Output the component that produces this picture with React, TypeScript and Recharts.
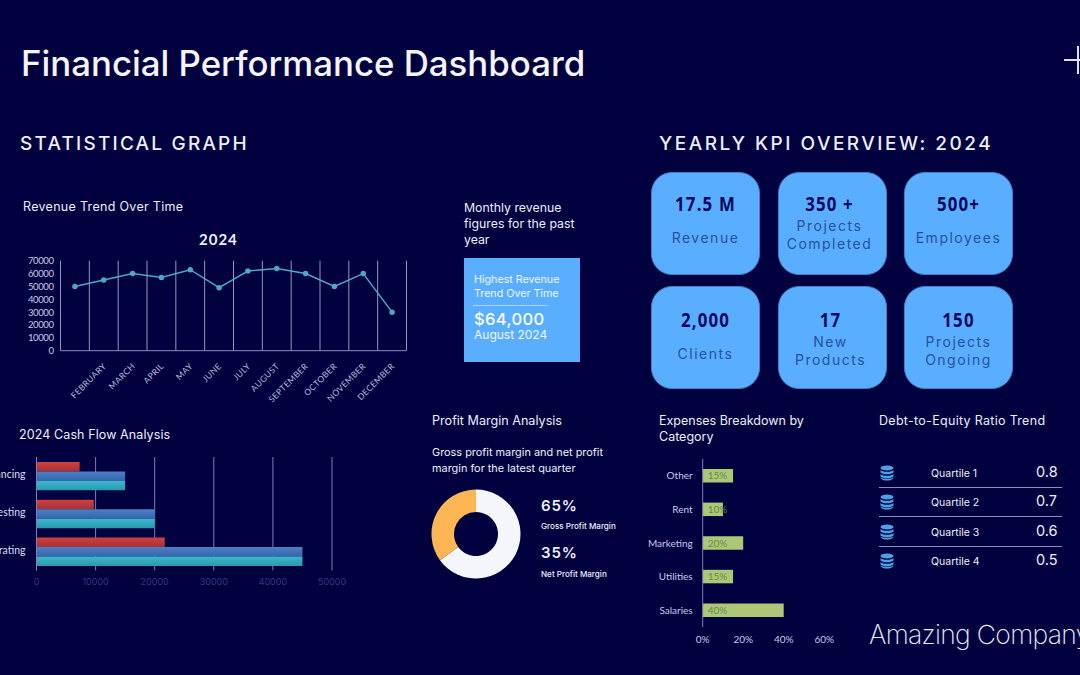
import { CSSProperties } from 'react';
import {
  Bar,
  BarChart,
  CartesianGrid,
  Cell,
  ComposedChart,
  LabelList,
  Line,
  Pie,
  PieChart,
  XAxis,
  YAxis,
} from 'recharts';

const months = ['', 'FEBRUARY', 'MARCH', 'APRIL', 'MAY', 'JUNE', 'JULY', 'AUGUST', 'SEPTEMBER', 'OCTOBER', 'NOVEMBER', 'DECEMBER'];
const revenue = [50000, 55000, 60000, 57000, 63000, 49000, 62000, 64000, 60000, 50000, 60000, 30000];
const revenueTicks = [0, 10000, 20000, 30000, 40000, 50000, 60000, 70000];

const flowCategories = ['Financing', 'Investing', 'Operating'];
const flowRed = [7300, 9700, 21700];
const flowBlue = [15000, 20000, 45000];
const flowTeal = [15000, 20000, 45000];
const flowTicks = [0, 10000, 20000, 30000, 40000, 50000];

const marginNames = ['Gross Profit Margin', 'Net Profit Margin'];
const marginValues = [65, 35];
const marginColors = ['#f5f6fc', '#fdb653'];

const expenseCategories = ['Other', 'Rent', 'Marketing', 'Utilities', 'Salaries'];
const expenseValues = [15, 10, 20, 15, 40];
const expenseTicks = [0, 20, 40, 60];

const quartiles = ['Quartile 1', 'Quartile 2', 'Quartile 3', 'Quartile 4'];
const ratios = ['0.8', '0.7', '0.6', '0.5'];

const kpiNumbers = ['17.5 M', '350 +', '500+', '2,000', '17', '150'];
const kpiLabels = [['Revenue'], ['Projects', 'Completed'], ['Employees'], ['Clients'], ['New', 'Products'], ['Projects', 'Ongoing']];

const BG = '#01013f';
const HEAD = '"Inter", sans-serif';
const BODY = '"Lato", sans-serif';

const revenueData = months.map((m, i) => ({ month: m, revenue: revenue[i] }));
const flowData = flowCategories.map((c, i) => ({ name: c, red: flowRed[i], blue: flowBlue[i], teal: flowTeal[i] }));
const marginData = marginNames.map((n, i) => ({ name: n, value: marginValues[i] }));
const expenseData = expenseCategories.map((c, i) => ({ name: c, value: expenseValues[i] }));

const at = (left: number, top: number, extra: CSSProperties = {}): CSSProperties => ({
  position: 'absolute',
  left,
  top,
  whiteSpace: 'nowrap',
  fontFamily: HEAD,
  color: '#eceefa',
  ...extra,
});

// month labels sit at 45 degrees, ending under the middle of each band
const MonthTick = (props: any) => {
  const { x, y, payload } = props;
  return (
    <g transform={`translate(${x + 3},${y + 8})`}>
      <text textAnchor="end" transform="rotate(-45)" fontSize={8.5} letterSpacing={0.35} fontFamily={BODY} fill="#b9b9dc">
        {payload.value}
      </text>
    </g>
  );
};

// grid lines run between the months, not through the points
const monthEdges = ({ offset }: any) =>
  [...months.map((_, i) => i), months.length].map((e) => offset.left + (e * offset.width) / months.length);

const DbIcon = () => (
  <svg width="14" height="16" viewBox="0 0 14 16" style={{ display: 'block' }}>
    <ellipse cx="7" cy="3" rx="6.5" ry="2.6" fill="#4f9fe6" />
    <path d="M0.5 5 C2 7.4 12 7.4 13.5 5 V7.4 C12 9.8 2 9.8 0.5 7.4 Z" fill="#4f9fe6" />
    <path d="M0.5 9 C2 11.4 12 11.4 13.5 9 V11.4 C12 13.8 2 13.8 0.5 11.4 Z" fill="#4f9fe6" />
    <path d="M0.5 12.4 C2 14.2 12 14.2 13.5 12.4 V13 C12 16.4 2 16.4 0.5 13 Z" fill="#4f9fe6" />
  </svg>
);

const cardLeft = [651, 778, 904];
const cardTop = [172, 286];
// the text in the middle column is not quite centred in its card
const cardShift = [0, -3, 0, 0, -2, 0];

export default function App() {
  return (
    <div style={{ position: 'fixed', left: 0, top: 0, width: 1080, height: 675, overflow: 'hidden', background: BG }}>
      <div style={at(21, 42, { fontSize: 34.8, fontWeight: 500, lineHeight: '42px', color: '#f3f4fd' })}>Financial Performance Dashboard</div>
      <div style={at(20, 131, { fontSize: 19, fontWeight: 500, letterSpacing: 2.2, lineHeight: '25px' })}>STATISTICAL GRAPH</div>
      <div style={at(659, 131, { fontSize: 19, fontWeight: 500, letterSpacing: 2.5, lineHeight: '25px' })}>YEARLY KPI OVERVIEW: 2024</div>

      <div style={{ position: 'absolute', left: 1064, top: 59, width: 16, height: 2, background: '#dfe0f5' }} />
      <div style={{ position: 'absolute', left: 1077, top: 46, width: 2, height: 28, background: '#dfe0f5' }} />

      <div style={at(23, 199, { fontSize: 12.5, lineHeight: '16px', letterSpacing: 0.3 })}>Revenue Trend Over Time</div>
      <div style={at(199, 230, { fontSize: 15, fontWeight: 700, lineHeight: '19px', fontFamily: BODY, letterSpacing: 1 })}>2024</div>

      <div style={{ position: 'absolute', left: 0, top: 250 }}>
        <ComposedChart width={430} height={170} data={revenueData} margin={{ top: 10.7, right: 23.5, bottom: 0, left: 0 }}>
          <CartesianGrid horizontal={false} stroke="#9795c4" verticalCoordinatesGenerator={monthEdges} />
          <XAxis
            dataKey="month"
            scale="band"
            interval={0}
            height={69.3}
            tick={<MonthTick />}
            tickLine={false}
            axisLine={{ stroke: '#8d8bbc' }}
          />
          <YAxis
            width={60.5}
            domain={[0, 70000]}
            ticks={revenueTicks}
            interval={0}
            tickLine={false}
            axisLine={false}
            tickMargin={1}
            tick={{ fill: '#c9c9e6', fontSize: 9.5, letterSpacing: -0.4, fontFamily: BODY }}
          />
          <Line
            dataKey="revenue"
            stroke="#4fa6c9"
            strokeWidth={1.5}
            dot={{ r: 2, fill: '#4fa6c9', stroke: '#4fa6c9' }}
            activeDot={false}
            isAnimationActive={false}
          />
        </ComposedChart>
      </div>

      <div style={at(464, 200, { fontSize: 12.3, lineHeight: '16px', whiteSpace: 'normal', width: 120 })}>
        Monthly revenue
        <br />
        figures for the past
        <br />
        year
      </div>
      <div style={{ position: 'absolute', left: 464, top: 258, width: 116, height: 104, background: '#5aaeff' }} />
      <div style={at(474, 273, { fontSize: 10.7, lineHeight: '14px', color: '#eef6ff' })}>
        Highest Revenue
        <br />
        Trend Over Time
      </div>
      <div style={{ position: 'absolute', left: 473, top: 305, width: 75, height: 1, background: '#a9d4ff' }} />
      <div style={at(474, 309, { fontSize: 16.5, fontWeight: 500, lineHeight: '20px', letterSpacing: 0.4, color: '#fff' })}>$64,000</div>
      <div style={at(474, 327, { fontSize: 12, lineHeight: '16px', color: '#eef6ff' })}>August 2024</div>

      {kpiNumbers.map((n, i) => {
        const row = Math.floor(i / 3);
        const two = kpiLabels[i].length > 1;
        return (
          <div
            key={n}
            style={{
              position: 'absolute',
              left: cardLeft[i % 3],
              top: cardTop[row],
              width: 109,
              height: 103,
              boxSizing: 'border-box',
              borderRadius: 21,
              background: '#5aaeff',
              border: '1.5px solid #3f80c4',
              textAlign: 'center',
            }}
          >
            <div
              style={{
                position: 'absolute',
                left: cardShift[i],
                right: -cardShift[i],
                top: row === 0 ? 18 : 20,
                fontFamily: '"Noto Sans", sans-serif',
                fontWeight: 700,
                fontSize: 20,
                lineHeight: '26px',
                letterSpacing: 1.4,
                color: '#07075c',
                transform: 'scaleX(0.84)',
              }}
            >
              {n}
            </div>
            <div
              style={{
                position: 'absolute',
                left: cardShift[i],
                right: -cardShift[i],
                top: (two ? 44 : 56) + row * 2,
                fontFamily: HEAD,
                fontSize: 14,
                lineHeight: '18px',
                letterSpacing: 1.5,
                color: '#27509f',
              }}
            >
              {kpiLabels[i].map((l) => (
                <div key={l}>{l}</div>
              ))}
            </div>
          </div>
        );
      })}

      <div style={at(19, 427, { fontSize: 12.5, lineHeight: '16px', letterSpacing: 0.1 })}>2024 Cash Flow Analysis</div>
      <div style={{ position: 'absolute', left: 0, top: 447 }}>
        <BarChart
          width={360}
          height={150}
          data={flowData}
          layout="vertical"
          barGap={0}
          barSize={9.45}
          margin={{ top: 10, right: 28, bottom: 0, left: 0 }}
        >
          <defs>
            <linearGradient id="flowRed" x1="0" y1="0" x2="0" y2="1">
              <stop offset="0%" stopColor="#cf4040" />
              <stop offset="100%" stopColor="#a83232" />
            </linearGradient>
            <linearGradient id="flowBlue" x1="0" y1="0" x2="0" y2="1">
              <stop offset="0%" stopColor="#4c7fc6" />
              <stop offset="100%" stopColor="#3466ab" />
            </linearGradient>
            <linearGradient id="flowTeal" x1="0" y1="0" x2="0" y2="1">
              <stop offset="0%" stopColor="#3db7d2" />
              <stop offset="100%" stopColor="#2a98ac" />
            </linearGradient>
          </defs>
          <CartesianGrid horizontal={false} stroke="#7f7db5" />
          <XAxis
            type="number"
            domain={[0, 50000]}
            ticks={flowTicks}
            interval={0}
            height={26.6}
            tickLine={false}
            axisLine={false}
            tick={{ fill: '#2d3b80', fontSize: 9, fontFamily: HEAD }}
          />
          <YAxis
            type="category"
            dataKey="name"
            width={36.5}
            interval={0}
            tickLine={false}
            axisLine={{ stroke: '#7f7db5' }}
            tickMargin={5}
            tick={{ fill: '#dcdcf2', fontSize: 10.5, fontFamily: BODY, dy: -1.5 }}
          />
          <Bar dataKey="red" fill="url(#flowRed)" isAnimationActive={false} />
          <Bar dataKey="blue" fill="url(#flowBlue)" isAnimationActive={false} />
          <Bar dataKey="teal" fill="url(#flowTeal)" isAnimationActive={false} />
        </BarChart>
      </div>

      <div style={at(432, 413, { fontSize: 12.6, lineHeight: '16px' })}>Profit Margin Analysis</div>
      <div style={at(432, 444, { fontSize: 10.9, lineHeight: '16px' })}>
        Gross profit margin and net profit
        <br />
        margin for the latest quarter
      </div>
      <div style={{ position: 'absolute', left: 426, top: 484 }}>
        <PieChart width={100} height={100} margin={{ top: 0, right: 0, bottom: 0, left: 0 }}>
          <Pie
            data={marginData}
            dataKey="value"
            cx={50}
            cy={50}
            innerRadius={22}
            outerRadius={44.5}
            startAngle={90}
            endAngle={-270}
            stroke="none"
            isAnimationActive={false}
          >
            {marginData.map((d, i) => (
              <Cell key={d.name} fill={marginColors[i]} />
            ))}
          </Pie>
        </PieChart>
      </div>
      {marginData.map((d, i) => (
        <div key={d.name}>
          <div style={at(541, 496 + i * 47, { fontSize: 15, fontWeight: 600, lineHeight: '20px', letterSpacing: 0.9 })}>{d.value}%</div>
          <div style={at(541, 520 + i * 48, { fontSize: 8.1, fontWeight: 500, lineHeight: '12px' })}>{d.name}</div>
        </div>
      ))}

      <div style={at(659, 413, { fontSize: 12.5, lineHeight: '15.5px' })}>
        Expenses Breakdown by
        <br />
        Category
      </div>
      <div style={{ position: 'absolute', left: 640, top: 449 }}>
        <BarChart
          width={210}
          height={200}
          data={expenseData}
          layout="vertical"
          barSize={13.5}
          margin={{ top: 10, right: 25.8, bottom: 0, left: 0 }}
        >
          <XAxis
            type="number"
            domain={[0, 60]}
            ticks={expenseTicks}
            interval={0}
            height={22}
            tickLine={false}
            axisLine={false}
            tickFormatter={(v: number) => `${v}%`}
            tick={{ fill: '#c9c9e6', fontSize: 10, fontFamily: BODY, dy: 1 }}
          />
          <YAxis
            type="category"
            dataKey="name"
            width={62.7}
            interval={0}
            tickLine={false}
            axisLine={{ stroke: '#7f7db5' }}
            tickMargin={4}
            tick={{ fill: '#c9c9e6', fontSize: 10, fontFamily: BODY }}
          />
          <Bar dataKey="value" fill="#aec777" isAnimationActive={false}>
            <LabelList
              dataKey="value"
              position="insideLeft"
              offset={5}
              formatter={(v: number) => `${v}%`}
              style={{ fill: '#5f8a52', fontSize: 10, fontFamily: BODY }}
            />
          </Bar>
        </BarChart>
      </div>

      <div style={at(879, 413, { fontSize: 12.5, lineHeight: '16px', letterSpacing: 0.3 })}>Debt-to-Equity Ratio Trend</div>
      {quartiles.map((q, i) => (
        <div key={q}>
          <div style={{ position: 'absolute', left: 880, top: 465 + Math.round(i * 29.4) }}>
            <DbIcon />
          </div>
          <div style={at(931, 467 + Math.round(i * 29.4), { fontSize: 10.5, lineHeight: '14px' })}>{q}</div>
          <div style={at(1036, 462 + Math.round(i * 29.3), { fontSize: 14.5, lineHeight: '20px' })}>{ratios[i]}</div>
          {i < 3 && <div style={{ position: 'absolute', left: 879, top: 487 + Math.round(i * 29.4), width: 183, height: 1, background: '#8d8bbc' }} />}
        </div>
      ))}

      <div style={at(869, 615, { fontSize: 26.5, fontWeight: 200, lineHeight: '38px', letterSpacing: -0.7 })}>Amazing Company</div>
    </div>
  );
}
